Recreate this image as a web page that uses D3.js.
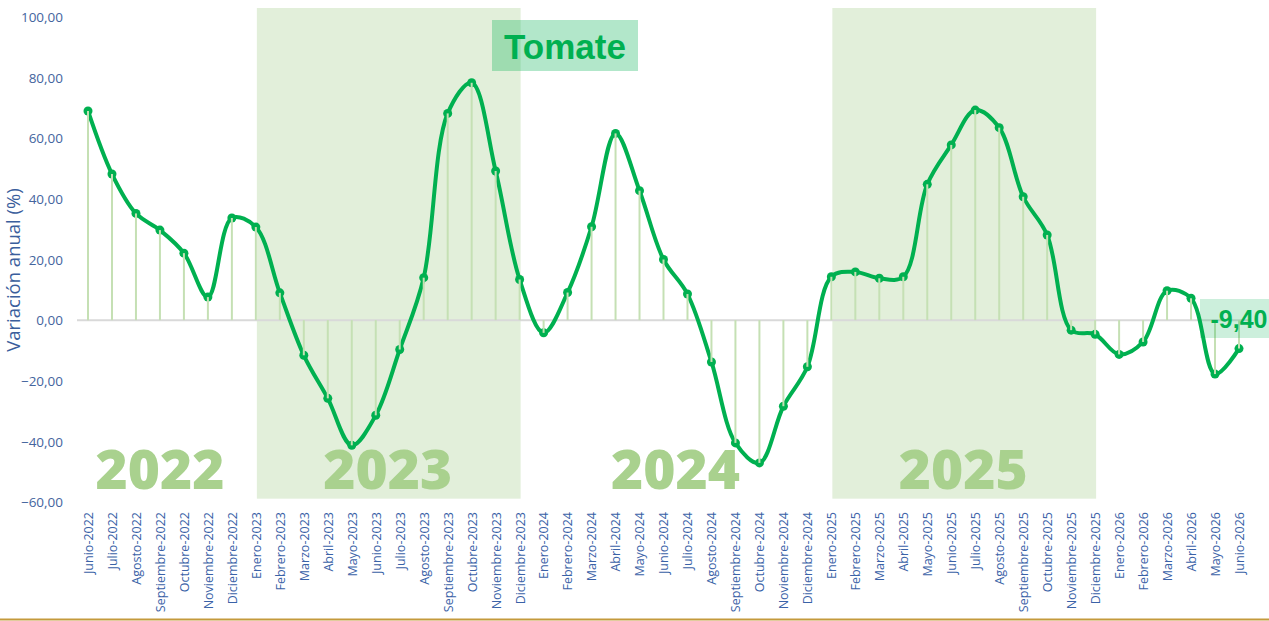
<!DOCTYPE html>
<html><head><meta charset="utf-8">
<script src="https://cdn.jsdelivr.net/npm/d3@7"></script>
<style>body{margin:0;background:#fff;}svg{display:block;}</style>
</head><body>
<svg id="c" width="1269" height="621"></svg>
<script>
const months = ["Junio-2022","Julio-2022","Agosto-2022","Septiembre-2022","Octubre-2022","Noviembre-2022","Diciembre-2022",
"Enero-2023","Febrero-2023","Marzo-2023","Abril-2023","Mayo-2023","Junio-2023","Julio-2023","Agosto-2023","Septiembre-2023","Octubre-2023","Noviembre-2023","Diciembre-2023",
"Enero-2024","Febrero-2024","Marzo-2024","Abril-2024","Mayo-2024","Junio-2024","Julio-2024","Agosto-2024","Septiembre-2024","Octubre-2024","Noviembre-2024","Diciembre-2024",
"Enero-2025","Febrero-2025","Marzo-2025","Abril-2025","Mayo-2025","Junio-2025","Julio-2025","Agosto-2025","Septiembre-2025","Octubre-2025","Noviembre-2025","Diciembre-2025",
"Enero-2026","Febrero-2026","Marzo-2026","Abril-2026","Mayo-2026","Junio-2026"];
const values = [69.0,48.2,35.2,29.7,22.1,7.6,33.7,
30.7,9.0,-11.6,-25.8,-41.3,-31.4,-9.7,14.0,68.2,78.3,49.2,13.4,
-4.2,9.1,30.8,61.6,42.7,20.0,8.6,-13.8,-40.5,-47.1,-28.4,-15.4,
14.3,15.9,13.8,14.3,44.8,57.8,69.3,63.5,40.7,28.1,-3.3,-4.7,
-11.3,-7.2,9.7,7.2,-17.8,-9.4];
const yTicks = [100,80,60,40,20,0,-20,-40,-60];
const shadedYears = [["Enero-2023","Diciembre-2023"],["Enero-2025","Diciembre-2025"]];
const yearLabels = ["2022","2023","2024","2025"];
// label centred between these two months
const yearLabelAt = [["Septiembre-2022","Septiembre-2022"],["Junio-2023","Julio-2023"],["Junio-2024","Julio-2024"],["Junio-2025","Julio-2025"]];
const title = "Tomate";
const lastLabel = "-9,40";

const svg = d3.select("#c");
const x = d3.scalePoint().domain(months).range([88,1239]);
const y = d3.scaleLinear().domain([-60,100]).range([502,17]);
const fmt = v => d3.format(".2f")(v).replace(".",",");

// shaded bands
shadedYears.forEach(([a,b])=>{
  svg.append("rect").attr("x",x(a)+1).attr("y",8).attr("width",x(b)-x(a)).attr("height",y(-58.9)-8)
    .attr("fill","#e2efda");
});

// year labels
yearLabels.forEach((t,i)=>{
  const cx = (x(yearLabelAt[i][0])+x(yearLabelAt[i][1]))/2;
  svg.append("text").attr("x",cx).attr("y",489)
    .attr("text-anchor","middle").attr("font-family","Open Sans").attr("font-weight",800)
    .attr("font-size",55).attr("fill","#a9d18e").text(t);
});

// zero line
svg.append("line").attr("x1",77).attr("x2",1251).attr("y1",y(0)).attr("y2",y(0))
  .attr("stroke","#d9d9d9").attr("stroke-width",2);

// y axis
const ya = svg.append("g").attr("transform","translate(63,0)")
  .call(d3.axisLeft(y).tickValues(yTicks).tickFormat(fmt).tickSize(0).tickPadding(0));
ya.select(".domain").remove();
ya.selectAll("text").attr("font-family","Open Sans").attr("font-size",13.5).attr("fill","#44659e").attr("dy","0.35em");

svg.append("text").attr("transform","translate(20,270) rotate(-90)")
  .attr("text-anchor","middle").attr("font-family","Open Sans").attr("font-size",18.5)
  .attr("fill","#3a5e9c").text("Variación anual (%)");

// x axis
const xa = svg.append("g").attr("transform","translate(0,512)")
  .call(d3.axisBottom(x).tickSize(0).tickPadding(0));
xa.select(".domain").remove();
xa.selectAll("text").attr("transform","rotate(-90)").attr("text-anchor","end")
  .attr("x",0).attr("y",0).attr("dx",0).attr("dy","0.35em")
  .attr("font-family","Open Sans").attr("font-size",12.5).attr("fill","#3a62a7");

// line
const line = d3.line().x((d,i)=>x(months[i])).y(d=>y(d)).curve(d3.curveCatmullRom.alpha(0.5));
svg.append("path").datum(values).attr("d",line).attr("fill","none")
  .attr("stroke","#00b050").attr("stroke-width",4).attr("stroke-linejoin","round");
svg.append("g").selectAll("circle").data(values).join("circle")
  .attr("cx",(d,i)=>x(months[i])).attr("cy",d=>y(d)).attr("r",4.5)
  .attr("fill","#00b050");

// drop lines (drawn over the markers, as in the reference)
svg.append("g").selectAll("line").data(values).join("line")
  .attr("x1",(d,i)=>x(months[i])).attr("x2",(d,i)=>x(months[i]))
  .attr("y1",y(0)).attr("y2",d=>y(d))
  .attr("stroke","#c5e0b4").attr("stroke-width",2);

// title
svg.append("rect").attr("x",492).attr("y",20).attr("width",146).attr("height",51)
  .attr("fill","#00b050").attr("fill-opacity",0.3);
svg.append("text").attr("x",565).attr("y",59).attr("text-anchor","middle")
  .attr("font-family","Liberation Sans").attr("font-weight","bold").attr("font-size",35)
  .attr("fill","#00b050").text(title);

// last label
svg.append("rect").attr("x",1200).attr("y",299).attr("width",69).attr("height",39)
  .attr("fill","#00b050").attr("fill-opacity",0.2);
svg.append("text").attr("x",1239).attr("y",328).attr("text-anchor","middle")
  .attr("font-family","Liberation Sans").attr("font-weight","bold").attr("font-size",25)
  .attr("fill","#00b050").text(lastLabel);

// bottom line
svg.append("line").attr("x1",0).attr("x2",1269).attr("y1",619.5).attr("y2",619.5)
  .attr("stroke","#c49a3c").attr("stroke-width",2);
</script>
</body></html>
